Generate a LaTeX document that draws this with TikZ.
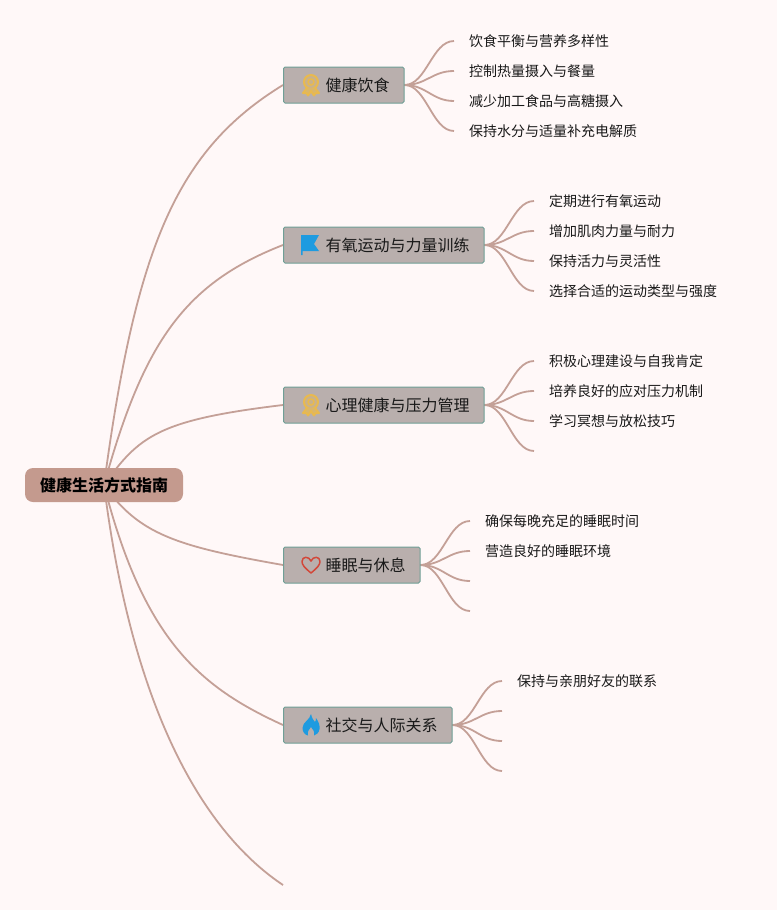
\documentclass[tikz,border=0pt]{standalone}
\usepackage{fontspec}
\setmainfont{Noto Sans CJK SC}
\usetikzlibrary{backgrounds}
\definecolor{paper}{HTML}{FFF8F8}
\definecolor{branch}{HTML}{C4A097}
\definecolor{rootfill}{HTML}{C49A8E}
\definecolor{topicfill}{HTML}{B9AFAD}
\definecolor{topicline}{HTML}{6F9F96}
\definecolor{medal}{HTML}{E8B94F}
\definecolor{iconblue}{HTML}{1E9BE0}
\definecolor{heartred}{HTML}{D2483A}
\tikzset{rootnode/.style={fill=rootfill,rounded corners=8pt,minimum height=34pt,inner xsep=15pt,inner ysep=0pt,font=\fontsize{16}{16}\selectfont\bfseries,text=black}}
\tikzset{topic/.style={draw=topicline,fill=topicfill,line width=1pt,rounded corners=1.5pt,anchor=west,minimum height=36pt,inner xsep=14.5pt,inner ysep=0pt,font=\fontsize{16}{16}\selectfont,text=black!90}}
\tikzset{leaf/.style={anchor=west,inner xsep=15pt,inner ysep=0pt,font=\fontsize{14}{14}\selectfont,text=black!90}}
\tikzset{bough/.style={draw=branch,line width=1.8pt}}
\tikzset{twig/.style={draw=branch,line width=1.8pt,out=0,in=180,out distance=22pt,in distance=22pt}}
\tikzset{medalicon/.pic={
	\draw [medal,line width=2pt,fill=medal!35!topicfill] (0,-3) circle [radius=7];
	\draw [medal,line width=1.5pt] (0,-3) circle [radius=3];
	\draw [medal,fill=medal!70!topicfill,line width=2pt,line join=round] (-4,3) -- (-8,8) -- (-4.5,8) -- (-3,10.5) -- (0,6) -- (3,10.5) -- (4.5,8) -- (8,8) -- (4,3);
}}
\tikzset{flagicon/.pic={
	\fill [iconblue] (-10,-10) -- (8,-10) -- (3,-1) -- (8,6) -- (-8.5,6) -- (-8.5,10) -- (-10,10) -- cycle;
}}
\tikzset{hearticon/.pic={
	\draw [heartred,line width=1.5pt,line join=round] (0,8) .. controls (-6,3) and (-9,0) .. (-9,-3.5) .. controls (-9,-9) and (-2,-9) .. (0,-4) .. controls (2,-9) and (9,-9) .. (9,-3.5) .. controls (9,0) and (6,3) .. (0,8) -- cycle;
}}
\tikzset{flameicon/.pic={
	\fill [iconblue] (0,-11) .. controls (1,-7) and (2,-5) .. (4,-3) .. controls (5,-4) and (5,-6) .. (5,-7) .. controls (8,-3) and (9,1) .. (8.5,4) .. controls (8,8) and (5,10) .. (3,10.5) .. controls (4,7) and (2,4) .. (0,2) .. controls (-2,4) and (-4,7) .. (-3,10.5) .. controls (-6,10) and (-8.5,7) .. (-8.5,3) .. controls (-8.5,-3) and (-1,-5) .. (0,-11) -- cycle;
}}

\begin{document}
\begin{tikzpicture}[x=1pt,y=-1pt]
	\useasboundingbox (0,0) rectangle (777,910);
	\begin{pgfonlayer}{background}
		\fill [paper] (0,0) rectangle (777,910);
	\end{pgfonlayer}

	\node [rootnode] (guide) at (104,485) {健康生活方式指南};

	\node [topic] (diet) at (283,85) {\hspace{27.5pt}健康饮食};
	\node [topic] (sport) at (283,245) {\hspace{27.5pt}有氧运动与力量训练};
	\node [topic] (mind) at (283,405) {\hspace{27.5pt}心理健康与压力管理};
	\node [topic] (rest) at (283,565) {\hspace{27.5pt}睡眠与休息};
	\node [topic] (social) at (283,725) {\hspace{27.5pt}社交与人际关系};
	\coordinate (spare) at (283,885);

	\pic at (311,85) {medalicon};
	\pic at (311,245) {flagicon};
	\pic at (311,405) {medalicon};
	\pic at (311,565) {hearticon};
	\pic at (311,725) {flameicon};

	% leaves of each topic
	\node [leaf] (diet1) at (454,41) {饮食平衡与营养多样性};
	\node [leaf] (diet2) at (454,71) {控制热量摄入与餐量};
	\node [leaf] (diet3) at (454,101) {减少加工食品与高糖摄入};
	\node [leaf] (diet4) at (454,131) {保持水分与适量补充电解质};

	\node [leaf] (sport1) at (534,201) {定期进行有氧运动};
	\node [leaf] (sport2) at (534,231) {增加肌肉力量与耐力};
	\node [leaf] (sport3) at (534,261) {保持活力与灵活性};
	\node [leaf] (sport4) at (534,291) {选择合适的运动类型与强度};

	\node [leaf] (mind1) at (534,361) {积极心理建设与自我肯定};
	\node [leaf] (mind2) at (534,391) {培养良好的应对压力机制};
	\node [leaf] (mind3) at (534,421) {学习冥想与放松技巧};
	\coordinate (mind4) at (534,451);

	\node [leaf] (rest1) at (470,521) {确保每晚充足的睡眠时间};
	\node [leaf] (rest2) at (470,551) {营造良好的睡眠环境};
	\coordinate (rest3) at (470,581);
	\coordinate (rest4) at (470,611);

	\node [leaf] (social1) at (502,681) {保持与亲朋好友的联系};
	\coordinate (social2) at (502,711);
	\coordinate (social3) at (502,741);
	\coordinate (social4) at (502,771);

	\begin{pgfonlayer}{background}
		\draw [bough] (guide.center) .. controls (136,246) and (177,150) .. (diet.west);
		\draw [bough] (guide.center) .. controls (144,340) and (186,283) .. (sport.west);
		\draw [bough] (guide.center) .. controls (139,436) and (158,420) .. (mind.west);
		\draw [bough] (guide.center) .. controls (139,534) and (175,546) .. (rest.west);
		\draw [bough] (guide.center) .. controls (144,642) and (202,688) .. (social.west);
		\draw [bough] (guide.center) .. controls (134,724) and (211,837) .. (spare);
		\foreach \t in {diet,sport,mind,rest,social}
			\foreach \n in {1,2,3,4}
				\draw [twig] (\t.east) to (\t\n.west);
	\end{pgfonlayer}
\end{tikzpicture}
\end{document}
